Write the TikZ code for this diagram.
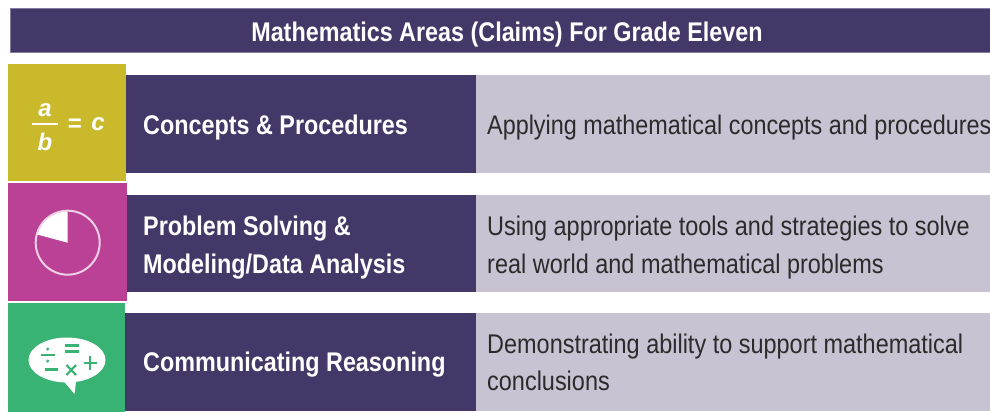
\documentclass[tikz,border=0pt]{standalone}
\usepackage{fontspec}
\setmainfont{Liberation Sans}
\newfontfamily\boldnarrow[FakeStretch=0.865]{Liberation Sans Bold}
\newfontfamily\regnarrow[FakeStretch=0.869]{Liberation Sans}
\definecolor{darkpurple}{HTML}{433867}
\definecolor{lightpurple}{HTML}{C7C3D2}
\definecolor{edgepurple}{HTML}{8479A3}
\definecolor{oliveyellow}{HTML}{C9B92B}
\definecolor{magentabox}{HTML}{BB4197}
\definecolor{greenbox}{HTML}{39B374}
\definecolor{bodytext}{HTML}{2B2B2B}
\tikzset{
  band/.style={fill=darkpurple,draw=none},
  lightband/.style={fill=lightpurple,draw=none},
  heading/.style={anchor=west,text=white,font=\boldnarrow\fontsize{27}{38}\selectfont,align=left,inner sep=0pt},
  bodyline/.style={anchor=west,text=bodytext,font=\regnarrow\fontsize{27}{38}\selectfont,align=left,inner sep=0pt},
  iconw/.style={fill=white,draw=none},
  iconletter/.style={text=white,font=\bfseries\itshape\fontsize{24}{24}\selectfont,inner sep=0pt}
}
\begin{document}
\begin{tikzpicture}[x=1pt,y=-1pt]
\useasboundingbox (0,0) rectangle (990,412);
\fill[white] (0,0) rectangle (990,412);
% title
\path[band,draw=edgepurple,line width=1pt] (10.5,8.5) rectangle (991,53);
\node[text=white,font=\boldnarrow\fontsize{27}{32}\selectfont,inner sep=0pt] (title) at (507,35) {Mathematics Areas (Claims) For Grade Eleven};
% row 1
\fill[lightband] (476,75) rectangle (990,173);
\fill[band] (126,75) rectangle (476,173);
\fill[oliveyellow] (8,64) rectangle (126,181);
\node[heading] (h1) at (143,127.5) {Concepts \& Procedures};
\node[bodyline,font=\regnarrow\fontsize{26.9}{38}\selectfont] (b1) at (487,127.5) {Applying mathematical concepts and procedures};
% row 2
\fill[lightband] (476,195) rectangle (990,291.5);
\fill[band] (127,195) rectangle (476,291.5);
\fill[magentabox] (8,183) rectangle (127,301);
\node[heading] (h2) at (143,247.5) {Problem Solving \&\\Modeling/Data Analysis};
\node[bodyline] (b2) at (487,247.5) {Using appropriate tools and strategies to solve\\real world and mathematical problems};
% row 3
\fill[lightband] (476,313) rectangle (990,410.5);
\fill[band] (125,313) rectangle (476,410.5);
\fill[greenbox] (8,303) rectangle (125,412);
\node[heading] (h3) at (143,365) {Communicating Reasoning};
\node[bodyline] (b3) at (487,362.5) {Demonstrating ability to support mathematical\\[-1pt]conclusions};
% icon 1
\draw[white,line width=2pt] (32,123.5) -- (58,123.5);
\node[iconletter] (ia) at (45,110) {a};
\node[iconletter] (ib) at (45,141.5) {b};
\node[iconletter,font=\bfseries\fontsize{24}{24}\selectfont] (ie) at (75,125.5) {=};
\node[iconletter] (ic) at (98,124) {c};
% icon 2
\draw[white!75!magentabox,line width=2pt] (67.7,242.7) circle (32);
\fill[iconw] (67.7,242.7) -- (67.7,211.5) arc (-90:-165:31.2) -- cycle;
% icon 3
\fill[iconw] (67,360) ellipse (38.5 and 22.5);
\fill[iconw] (61,378) -- (74.5,394) -- (76.5,378) -- cycle;
\begin{scope}[line width=2.2pt]
\draw[greenbox] (40.5,355) -- (55,355);
\fill[greenbox] (47.7,349) circle (1.7);
\fill[greenbox] (47.7,361) circle (1.7);
\draw[greenbox] (64.5,345.5) -- (78.5,345.5);
\draw[greenbox] (64.5,351.5) -- (78.5,351.5);
\draw[greenbox] (44.5,369.5) -- (58,369.5);
\draw[greenbox] (66.5,365) -- (76,375);
\draw[greenbox] (76,365) -- (66.5,375);
\draw[greenbox] (83.5,363) -- (97,363);
\draw[greenbox] (90.3,356) -- (90.3,370);
\end{scope}
\end{tikzpicture}
\end{document}
